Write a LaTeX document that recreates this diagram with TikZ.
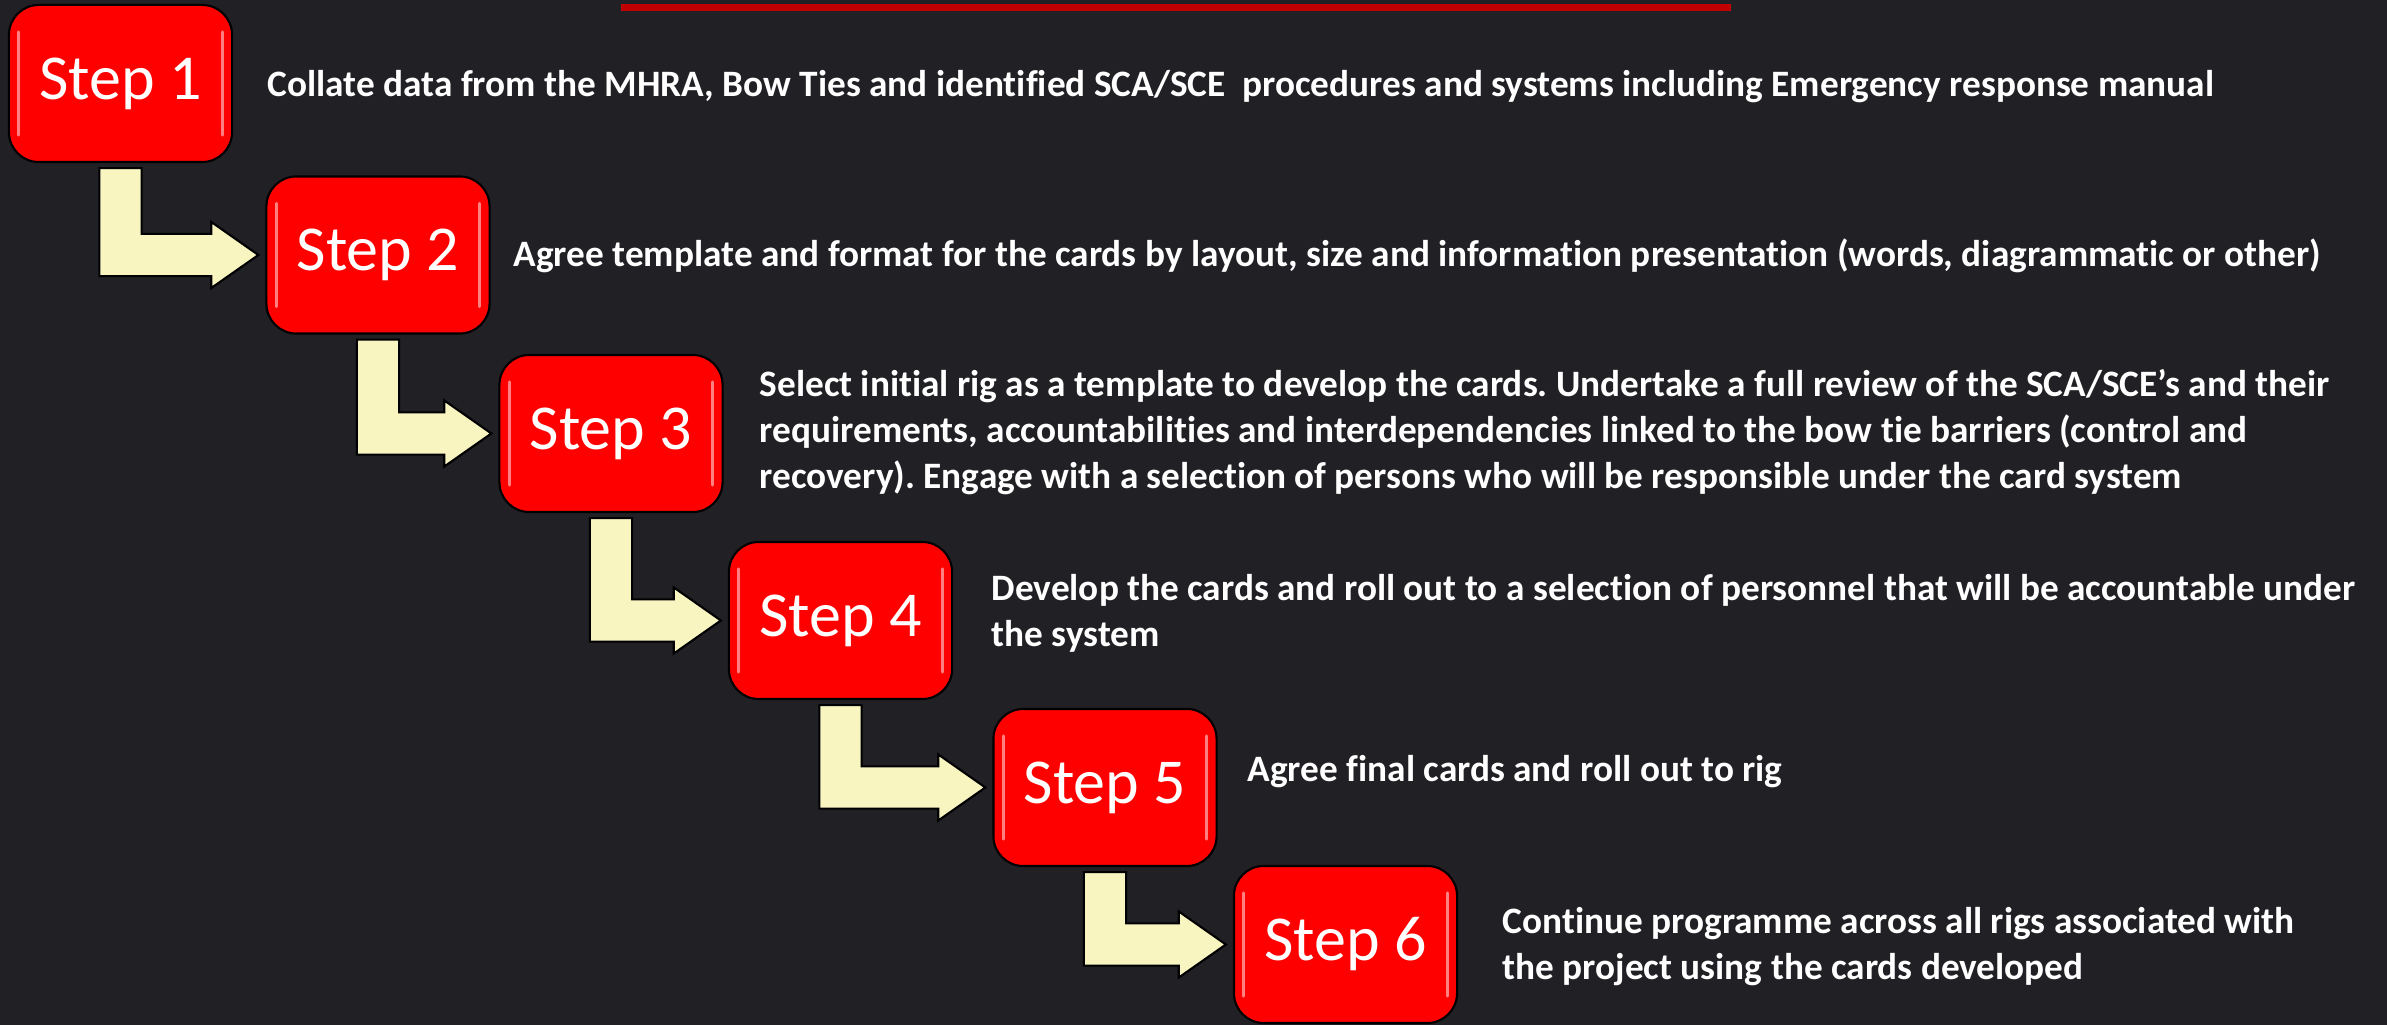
\documentclass[tikz,border=0pt]{standalone}
\usepackage{fontspec}
\setmainfont{Carlito}[Ligatures={NoCommon}]
\usetikzlibrary{calc}
\definecolor{bgdark}{RGB}{33,32,36}
\definecolor{boxred}{RGB}{255,0,0}
\definecolor{linered}{RGB}{192,0,0}
\definecolor{arrowcream}{RGB}{248,245,192}
\frenchspacing

% L-shaped block arrow from the foot of one step to the side of the next
\newcommand{\stepflow}[2]{%
  \filldraw[flowarrow] let \p1=($(#1.south)+(0,5)$), \p2=($(#2.west)+(-7,0)$) in
    (\x1-6pt,\y1) -- (\x1+6pt,\y1) -- (\x1+6pt,\y2+6pt) -- (\x2-13.4pt,\y2+6pt)
    -- (\x2-13.4pt,\y2+9.4pt) -- (\x2,\y2) -- (\x2-13.4pt,\y2-9.4pt)
    -- (\x2-13.4pt,\y2-6pt) -- (\x1-6pt,\y2-6pt) -- cycle;
}
% red step box with its glossy edges
\newcommand{\stepbox}[4]{%
  \node[stepnode] (#1) at (#2,#3) {#4};
  \draw[gloss] ($(#1.north west)+(11,28)$) -- ($(#1.south west)+(11,-28)$);
  \draw[gloss] ($(#1.north east)+(-11,28)$) -- ($(#1.south east)+(-11,-28)$);
}

\begin{document}
\begin{tikzpicture}[x=0.01cm,y=-0.01cm,
  stepnode/.style={draw=black, line width=0.6pt, fill=boxred, rounded corners=8.5pt,
    minimum width=2.23cm, minimum height=1.57cm, inner sep=0pt, text=white,
    font=\fontsize{18.2}{20}\selectfont},
  steptext/.style={anchor=west, inner sep=0pt, align=left, text=white,
    font=\bfseries\fontsize{10.6}{13.1}\selectfont},
  gloss/.style={draw=white, line width=0.9pt, opacity=0.5, line cap=round},
  flowarrow/.style={fill=arrowcream, draw=black, line width=0.6pt}]
  \fill[bgdark] (0,0) rectangle (2387,1025);
  \useasboundingbox (0,0) rectangle (2387,1025);
  \fill[linered] (621,4) rectangle (1731,11);

  \stepbox{s1}{120.5}{83.5}{Step 1}
  \stepbox{s2}{378}{255}{Step 2}
  \stepbox{s3}{611}{433.5}{Step 3}
  \stepbox{s4}{840.5}{620.5}{Step 4}
  \stepbox{s5}{1105}{787.5}{Step 5}
  \stepbox{s6}{1345.5}{944.5}{Step 6}

  \stepflow{s1}{s2}
  \stepflow{s2}{s3}
  \stepflow{s3}{s4}
  \stepflow{s4}{s5}
  \stepflow{s5}{s6}

  \node[steptext] (t1) at (267,87) {Collate data from the MHRA, Bow Ties and identified SCA/SCE\ \ procedures and systems including Emergency response manual};
  \node[steptext] (t2) at (513,256) {Agree template and format for the cards by layout, size and information presentation (words, diagrammatic or other)};
  \node[steptext] (t3) at (759,432) {Select initial rig as a template to develop the cards. Undertake a full review of the SCA/SCE’s and their\\
    requirements, accountabilities and interdependencies linked to the bow tie barriers (control and\\
    recovery). Engage with a selection of persons who will be responsible under the card system};
  \node[steptext] (t4) at (991,613) {Develop the cards and roll out to a selection of personnel that will be accountable under\\
    the system};
  \node[steptext] (t5) at (1247,772) {Agree final cards and roll out to rig};
  \node[steptext] (t6) at (1502,947) {Continue programme across all rigs associated with\\
    the project using the cards developed};
\end{tikzpicture}
\end{document}
